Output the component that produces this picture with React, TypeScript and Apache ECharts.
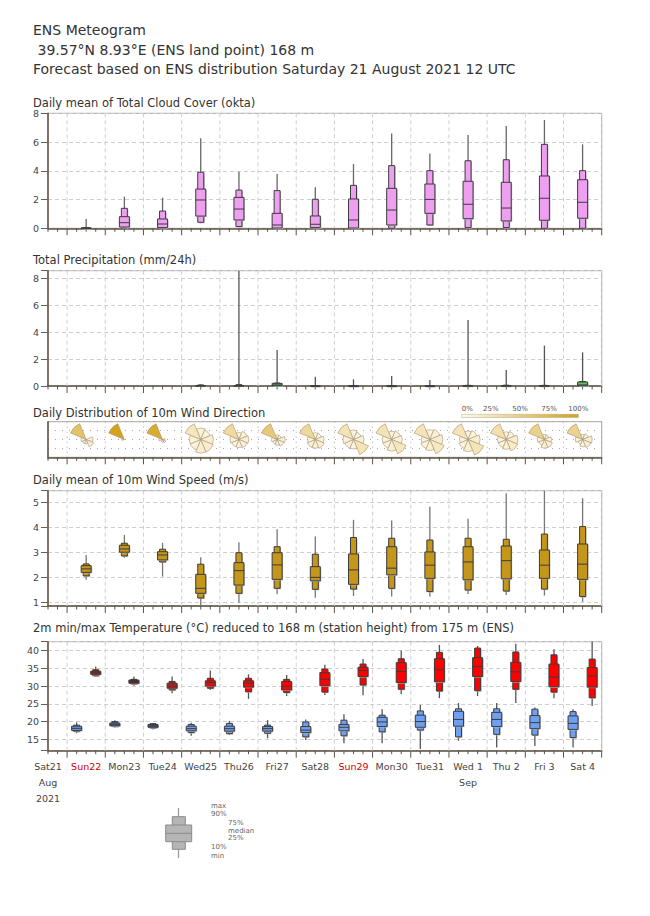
import React, { useEffect, useRef } from 'react';
import * as echarts from 'echarts';

const FONT = "'DejaVu Sans', Verdana, sans-serif";

// ---- axis / tick labels ----
const DAY_LABELS = ['Sat21', 'Sun22', 'Mon23', 'Tue24', 'Wed25', 'Thu26', 'Fri27', 'Sat28', 'Sun29', 'Mon30', 'Tue31', 'Wed 1', 'Thu 2', 'Fri 3', 'Sat 4'];
const SUNDAY_INDEX = [1, 8];
const MONTH_LINES: Record<number, string[]> = { 0: ['Aug', '2021'], 11: ['Sep'] };
// days after Sat21 12 UTC (12 UTC of each forecast day)
const DAYS = [1, 2, 3, 4, 5, 6, 7, 8, 9, 10, 11, 12, 13, 14];
const TMIN_X = DAYS.map((d) => d - 0.25);
const TMAX_X = DAYS.map((d) => d + 0.25);
const TICK_TIMES = Array.from({ length: 59 }, (_, i) => i * 0.25);

// ---- series values: [min, p10, p25, median, p75, p90, max] ----
const CLOUD = [
  [0, 0, 0, 0, 0.03, 0.05, 0.65],
  [0, 0.02, 0.09, 0.39, 0.81, 1.39, 2.2],
  [0, 0, 0.05, 0.3, 0.65, 1.2, 2.13],
  [0.36, 0.42, 0.85, 1.97, 2.73, 3.9, 6.26],
  [0.1, 0.12, 0.58, 1.34, 2.15, 2.66, 3.94],
  [0, 0, 0.02, 0.23, 1.04, 2.62, 3.78],
  [0, 0, 0.05, 0.28, 0.86, 2.02, 2.85],
  [0, 0, 0.02, 0.58, 2.04, 2.99, 4.47],
  [0, 0, 0.23, 1.27, 2.78, 4.36, 6.6],
  [0.2, 0.23, 1.04, 2.01, 3.08, 4.01, 5.21],
  [0, 0.05, 0.67, 1.67, 3.27, 4.7, 6.49],
  [0, 0.05, 0.51, 1.41, 3.2, 4.77, 7.12],
  [0, 0, 0.56, 2.09, 3.64, 5.84, 7.53],
  [0, 0, 0.7, 1.81, 3.38, 4.01, 5.84],
];

const PRECIP = [
  [0, 0, 0, 0, 0, 0, 0],
  [0, 0, 0, 0, 0, 0, 0],
  [0, 0, 0, 0, 0, 0, 0],
  [0, 0, 0, 0, 0.03, 0.08, 0.12],
  [0, 0, 0, 0, 0.03, 0.1, 8.6],
  [0, 0, 0.02, 0.08, 0.2, 0.22, 2.68],
  [0, 0, 0, 0, 0, 0.02, 0.69],
  [0, 0, 0, 0, 0, 0.02, 0.5],
  [0, 0, 0, 0, 0, 0.02, 0.74],
  [0, 0, 0, 0, 0, 0.01, 0.45],
  [0, 0, 0, 0, 0.02, 0.05, 4.92],
  [0, 0, 0, 0, 0.02, 0.06, 1.19],
  [0, 0, 0, 0, 0.02, 0.05, 3.01],
  [0, 0, 0.01, 0.08, 0.3, 0.33, 2.51],
];

const WIND = [
  [1.9, 2.06, 2.2, 2.34, 2.47, 2.54, 2.9],
  [2.79, 2.86, 3.01, 3.14, 3.29, 3.37, 3.7],
  [2.03, 2.62, 2.7, 2.9, 3.03, 3.13, 3.39],
  [0.89, 1.17, 1.36, 1.56, 2.12, 2.53, 2.81],
  [0.98, 1.36, 1.69, 2.27, 2.59, 2.99, 3.41],
  [1.32, 1.56, 1.92, 2.5, 2.99, 3.23, 3.93],
  [1.18, 1.52, 1.86, 2.0, 2.43, 2.93, 3.64],
  [1.25, 1.53, 1.72, 2.3, 2.94, 3.6, 4.31],
  [1.23, 1.56, 2.1, 2.37, 3.23, 3.57, 4.28],
  [1.23, 1.43, 1.96, 2.49, 3.02, 3.5, 4.84],
  [1.33, 1.49, 1.9, 2.62, 3.23, 3.57, 4.35],
  [1.29, 1.45, 1.94, 2.67, 3.26, 3.53, 5.38],
  [1.27, 1.53, 1.96, 2.49, 3.1, 3.74, 5.47],
  [1.02, 1.23, 1.92, 2.53, 3.34, 4.04, 5.18],
];

const TMIN = [
  [16.7, 17.2, 17.5, 18.1, 18.7, 19.0, 19.8],
  [18.3, 18.6, 18.8, 19.1, 19.6, 20.0, 20.4],
  [17.8, 18.2, 18.4, 18.8, 19.2, 19.4, 19.6],
  [16.0, 16.9, 17.4, 18.0, 18.7, 19.2, 19.7],
  [16.2, 16.6, 17.3, 18.0, 18.7, 19.5, 20.2],
  [15.3, 16.7, 17.3, 18.0, 18.6, 19.0, 20.4],
  [14.8, 15.7, 16.9, 17.6, 18.6, 19.9, 20.6],
  [13.9, 16.0, 17.4, 18.4, 19.2, 20.4, 22.1],
  [13.9, 17.1, 18.6, 19.9, 21.2, 21.8, 23.5],
  [12.3, 17.6, 18.4, 20.0, 21.8, 23.0, 24.7],
  [14.6, 15.7, 18.7, 20.6, 22.9, 23.6, 25.2],
  [12.7, 16.4, 18.6, 20.6, 22.6, 23.6, 25.2],
  [13.1, 16.2, 18.0, 19.7, 21.7, 23.5, 24.0],
  [12.7, 15.5, 17.8, 19.5, 21.6, 22.8, 23.5],
];

const TMAX = [
  [32.6, 32.9, 33.3, 33.8, 34.2, 34.6, 35.5],
  [30.1, 30.6, 30.8, 31.3, 31.7, 31.9, 32.7],
  [28.0, 28.9, 29.4, 30.0, 30.8, 31.3, 32.7],
  [28.9, 29.4, 30.0, 31.0, 31.5, 32.2, 34.4],
  [26.4, 28.4, 29.7, 30.8, 31.5, 32.2, 33.3],
  [27.2, 28.2, 28.9, 30.0, 31.3, 31.9, 33.1],
  [27.5, 28.3, 30.1, 31.9, 33.8, 34.8, 36.0],
  [27.4, 30.3, 32.7, 34.4, 35.3, 36.2, 37.6],
  [27.7, 29.1, 31.0, 34.1, 36.6, 37.7, 40.0],
  [26.6, 28.6, 31.2, 34.6, 37.7, 39.5, 41.6],
  [27.2, 28.7, 32.7, 35.5, 38.0, 40.7, 41.3],
  [25.2, 29.1, 31.3, 34.0, 36.7, 39.6, 41.9],
  [26.6, 28.3, 29.8, 32.5, 36.2, 38.8, 40.4],
  [24.4, 26.7, 29.7, 32.9, 35.2, 37.6, 42.5],
];

// wind direction frequency (%) per day: N, NE, E, SE, S, SW, W, NW
const WIND_DIR = [
  [0, 0, 10, 14, 4, 4, 6, 62],
  [0, 0, 0, 0, 0, 0, 2, 98],
  [0, 0, 2, 4, 2, 0, 4, 88],
  [10, 8, 12, 14, 14, 10, 10, 22],
  [6, 10, 12, 10, 8, 8, 10, 36],
  [4, 4, 12, 10, 6, 4, 6, 54],
  [6, 6, 10, 12, 10, 10, 8, 38],
  [8, 6, 10, 24, 8, 8, 10, 26],
  [6, 8, 10, 22, 12, 8, 8, 26],
  [8, 10, 14, 20, 10, 8, 6, 24],
  [6, 8, 12, 24, 12, 8, 6, 24],
  [6, 8, 14, 16, 10, 8, 8, 30],
  [4, 4, 8, 12, 12, 6, 8, 46],
  [4, 6, 14, 12, 8, 4, 8, 44],
];

const COLORBAR_LABELS = ['0%', '25%', '50%', '75%', '100%'];

const CLOUD_COLOR = '#ee9ff0';
const PRECIP_COLOR = '#5fc25f';
const WIND_COLOR = '#c4961a';
const TMIN_COLORS = ['#6a9be8', '#4d72ad', '#3f5e8e', '#6f9ff0', '#6f9ff0', '#6f9ff0', '#6f9ff0', '#6f9ff0', '#6f9ff0', '#6f9ff0', '#6f9ff0', '#6f9ff0', '#6f9ff0', '#6f9ff0'];
const TMAX_COLORS = ['#b81414', '#7d1212', '#c41a1a', '#ff0000', '#ff0000', '#ff0000', '#ff0000', '#ff0000', '#ff0000', '#ff0000', '#ff0000', '#ff0000', '#ff0000', '#ff0000'];

const AXIS_COLOR = '#5e5246';
const LEFT = 48;
const WIDTH = 553.7;
const GRIDS = [
  { top: 113.3, height: 115, ymin: 0, ymax: 8, split: 4 },
  { top: 270.7, height: 115.3, ymin: 0, ymax: 8.6, split: 4 },
  { top: 421.7, height: 35.6, ymin: 0, ymax: 1, split: 4 },
  { top: 490.7, height: 115.3, ymin: 0.85, ymax: 5.48, split: 5 },
  { top: 641.7, height: 109, ymin: 11.8, ymax: 42.5, split: 5 },
];
const STEPS = [2, 2, 0.25, 1, 5];

function lerpColor(f: number) {
  const a = [255, 250, 235];
  const b = [212, 160, 23];
  const c = a.map((v, i) => Math.round(v + (b[i] - v) * f));
  return `rgb(${c[0]},${c[1]},${c[2]})`;
}

function frameSeries(gi: number) {
  const g = GRIDS[gi];
  const dotted = gi === 2;
  return {
    type: 'custom',
    xAxisIndex: gi,
    yAxisIndex: gi,
    z: 1,
    silent: true,
    clip: false,
    data: TICK_TIMES.map((t) => [t, g.ymin]),
    encode: { x: 0, y: 1 },
    renderItem: (params: any, api: any) => {
      const t = api.value(0);
      const b = api.coord([t, g.ymin]);
      const tp = api.coord([t, g.ymax]);
      const ph = (((t - 0.5) % 1) + 1) % 1;
      const major = Math.abs(ph) < 1e-6 || Math.abs(ph - 1) < 1e-6;
      const children: any[] = [
        {
          type: 'line',
          shape: { x1: b[0], y1: b[1], x2: b[0], y2: b[1] + (major ? 7 : 3.5) },
          style: { stroke: AXIS_COLOR, lineWidth: 1 },
        },
      ];
      if (major) {
        children.push({
          type: 'line',
          shape: { x1: tp[0], y1: tp[1], x2: b[0], y2: b[1] },
          style: dotted
            ? { stroke: '#a8a8a8', lineWidth: 1, lineDash: [1, 4] }
            : { stroke: '#cfcfcf', lineWidth: 1, lineDash: [4, 3] },
        });
      }
      return { type: 'group', children };
    },
  };
}

function boxSeries(gi: number, boxes: number[][], xs: number[], fills: string[], whisker: string) {
  return {
    type: 'custom',
    xAxisIndex: gi,
    yAxisIndex: gi,
    z: 3,
    silent: true,
    data: boxes.map((b, i) => [xs[i], ...b]),
    encode: { x: 0, y: [1, 2, 3, 4, 5, 6, 7] },
    renderItem: (params: any, api: any) => {
      const x = api.value(0);
      const v = [1, 2, 3, 4, 5, 6, 7].map((k) => api.value(k));
      if (v[6] <= 0) return { type: 'group', children: [] };
      const cx = api.coord([x, v[3]])[0];
      const Y = v.map((val) => api.coord([x, val])[1]);
      const fill = fills[params.dataIndex];
      const nw = 3;
      const ww = 5;
      const halo = '#bdbdbd';
      return {
        type: 'group',
        children: [
          { type: 'line', shape: { x1: cx, y1: Y[0], x2: cx, y2: Y[6] }, style: { stroke: whisker, lineWidth: 1.3 } },
          { type: 'rect', shape: { x: cx - nw + 1, y: Y[5] + 1, width: 2 * nw, height: Math.max(Y[1] - Y[5], 0.5) }, style: { fill: halo } },
          { type: 'rect', shape: { x: cx - nw, y: Y[5], width: 2 * nw, height: Y[1] - Y[5] }, style: { fill, stroke: '#3c3c3c', lineWidth: 1 } },
          { type: 'rect', shape: { x: cx - ww + 1, y: Y[4] + 1, width: 2 * ww, height: Math.max(Y[2] - Y[4], 0.5) }, style: { fill: halo } },
          { type: 'rect', shape: { x: cx - ww, y: Y[4], width: 2 * ww, height: Y[2] - Y[4] }, style: { fill, stroke: '#3c3c3c', lineWidth: 1 } },
          { type: 'line', shape: { x1: cx - ww, y1: Y[3], x2: cx + ww, y2: Y[3] }, style: { stroke: '#3c3c3c', lineWidth: 1 } },
        ],
      };
    },
  };
}

function roseSeries() {
  const R = 17;
  return {
    type: 'custom',
    xAxisIndex: 2,
    yAxisIndex: 2,
    z: 3,
    silent: true,
    clip: false,
    data: WIND_DIR.map((f, i) => [DAYS[i], 0.5, ...f]),
    encode: { x: 0, y: 1 },
    renderItem: (params: any, api: any) => {
      const c = api.coord([api.value(0), api.value(1)]);
      const freqs = [2, 3, 4, 5, 6, 7, 8, 9].map((k) => api.value(k));
      const fmax = Math.max(...freqs);
      const children: any[] = [];
      freqs.forEach((f, k) => {
        if (f <= 0) return;
        const mid = k * 45 - 90;
        children.push({
          type: 'sector',
          shape: {
            cx: c[0],
            cy: c[1],
            r0: 0,
            r: R * Math.sqrt(f / fmax),
            startAngle: ((mid - 22.5) * Math.PI) / 180,
            endAngle: ((mid + 22.5) * Math.PI) / 180,
            clockwise: true,
          },
          style: { fill: lerpColor(f / 100), stroke: '#a39478', lineWidth: 0.6 },
        });
      });
      return { type: 'group', children };
    },
  };
}

function txt(text: string, x: number, y: number, size: number, fill = '#333', align = 'left') {
  return {
    type: 'text',
    x,
    y,
    silent: true,
    style: {
      text,
      font: `${size}px ${FONT}`,
      fill,
      align,
      textAlign: align,
      verticalAlign: 'middle',
      textVerticalAlign: 'middle',
    },
  };
}

export default function App() {
  const ref = useRef<HTMLDivElement>(null);

  useEffect(() => {
    if (!ref.current) return;
    const chart = echarts.init(ref.current, undefined, { renderer: 'svg' });

    const grid = GRIDS.map((g) => ({
      left: LEFT,
      top: g.top,
      width: WIDTH,
      height: g.height,
      show: true,
      borderColor: '#aaa49b',
      borderWidth: 1,
      backgroundColor: '#fff',
      containLabel: false,
    }));

    const xAxis = GRIDS.map((g, i) => ({
      type: 'value',
      gridIndex: i,
      min: 0,
      max: 14.5,
      interval: 1,
      axisLine: { show: true, onZero: false, lineStyle: { color: AXIS_COLOR, width: 1.5 } },
      axisTick: { show: false },
      splitLine: { show: false },
      axisLabel:
        i === 4
          ? {
              show: true,
              margin: 8,
              formatter: (v: number) => {
                if (Math.abs(v - Math.round(v)) > 1e-6) return '';
                const idx = Math.round(v);
                const lab = DAY_LABELS[idx];
                if (!lab) return '';
                const style = SUNDAY_INDEX.includes(idx) ? 'sun' : 'd';
                const lines = [`{${style}|${lab}}`];
                (MONTH_LINES[idx] || []).forEach((m) => lines.push(`{d|${m}}`));
                return lines.join('\n');
              },
              rich: {
                d: { color: '#444', fontSize: 9.5, fontFamily: FONT, lineHeight: 16 },
                sun: { color: '#d40000', fontSize: 9.5, fontFamily: FONT, lineHeight: 16 },
              },
            }
          : { show: false },
    }));

    const yAxis = GRIDS.map((g, i) => ({
      type: 'value',
      gridIndex: i,
      min: g.ymin,
      max: g.ymax,
      ...(i === 2 ? { interval: 0.25 } : { splitNumber: g.split }),
      axisLine: { show: true, onZero: false, lineStyle: { color: AXIS_COLOR, width: 1.5 } },
      axisTick: { show: i !== 2, length: 7, lineStyle: { color: '#6b6158' } },
      axisLabel:
        i === 2
          ? { show: false }
          : {
              show: true,
              margin: 9,
              color: '#444',
              fontSize: 9.5,
              fontFamily: FONT,
              formatter: (v: number) => {
                const s = STEPS[i];
                return Math.abs(v - Math.round(v / s) * s) < 1e-6 ? String(Math.round(v)) : '';
              },
            },
      splitLine: {
        show: true,
        lineStyle:
          i === 2
            ? { color: '#a8a8a8', type: [1, 6], width: 1 }
            : { color: '#cfcfcf', type: [4, 3], width: 1 },
      },
    }));

    const series: any[] = [
      frameSeries(0),
      frameSeries(1),
      frameSeries(2),
      frameSeries(3),
      frameSeries(4),
      boxSeries(0, CLOUD, DAYS, DAYS.map(() => CLOUD_COLOR), '#666'),
      boxSeries(1, PRECIP, DAYS, DAYS.map(() => PRECIP_COLOR), '#555'),
      roseSeries(),
      boxSeries(3, WIND, DAYS, DAYS.map(() => WIND_COLOR), '#777'),
      boxSeries(4, TMIN, TMIN_X, TMIN_COLORS, '#555'),
      boxSeries(4, TMAX, TMAX_X, TMAX_COLORS, '#555'),
    ];

    const barX = 461.7;
    const barW = 116.6;
    const graphic: any[] = [
      txt('ENS Meteogram', 33, 30, 14),
      txt('39.57°N 8.93°E (ENS land point) 168 m', 37.5, 49.5, 14),
      txt('Forecast based on ENS distribution Saturday 21 August 2021 12 UTC', 33, 69, 14),
      txt('Daily mean of Total Cloud Cover (okta)', 33, 102.5, 11.5),
      txt('Total Precipitation (mm/24h)', 33, 260, 11.5),
      txt('Daily Distribution of 10m Wind Direction', 33, 412.7, 11.5),
      txt('Daily mean of 10m Wind Speed (m/s)', 33, 479.5, 11.5),
      txt('2m min/max Temperature (°C) reduced to 168 m (station height) from 175 m (ENS)', 33, 628, 11.5),
      {
        type: 'rect',
        silent: true,
        shape: { x: barX, y: 414.3, width: barW, height: 3.2 },
        style: {
          fill: new echarts.graphic.LinearGradient(0, 0, 1, 0, [
            { offset: 0, color: lerpColor(0) },
            { offset: 1, color: lerpColor(1) },
          ]),
          stroke: '#b0a890',
          lineWidth: 0.5,
        },
      },
      ...COLORBAR_LABELS.map((l, i) =>
        txt(l, i === 0 ? barX : barX + (barW * i) / 4, 409, 7, '#555', i === 0 ? 'left' : 'center')
      ),
      // box legend
      { type: 'line', silent: true, shape: { x1: 178.5, y1: 808, x2: 178.5, y2: 858 }, style: { stroke: '#999', lineWidth: 1.2 } },
      { type: 'rect', silent: true, shape: { x: 172.3, y: 816.7, width: 13, height: 32.6 }, style: { fill: '#b5b5b5', stroke: '#8a8a8a', lineWidth: 1 } },
      { type: 'rect', silent: true, shape: { x: 165.7, y: 825, width: 26, height: 16.7 }, style: { fill: '#b5b5b5', stroke: '#8a8a8a', lineWidth: 1 } },
      { type: 'line', silent: true, shape: { x1: 165.7, y1: 833.3, x2: 191.7, y2: 833.3 }, style: { stroke: '#8a8a8a', lineWidth: 1 } },
      txt('max', 211, 805.5, 7, '#666'),
      txt('90%', 211, 813.5, 7, '#666'),
      txt('75%', 228, 823, 7, '#666'),
      txt('median', 228, 830.7, 7, '#666'),
      txt('25%', 228, 838.3, 7, '#666'),
      txt('10%', 211, 847, 7, '#666'),
      txt('min', 211, 856, 7, '#666'),
    ];

    chart.setOption({
      animation: false,
      backgroundColor: '#fff',
      grid,
      xAxis,
      yAxis,
      series,
      graphic,
    });

    return () => {
      chart.dispose();
    };
  }, []);

  return (
    <div
      ref={ref}
      style={{ position: 'fixed', left: 0, top: 0, width: 650, height: 916, background: '#fff' }}
    />
  );
}
